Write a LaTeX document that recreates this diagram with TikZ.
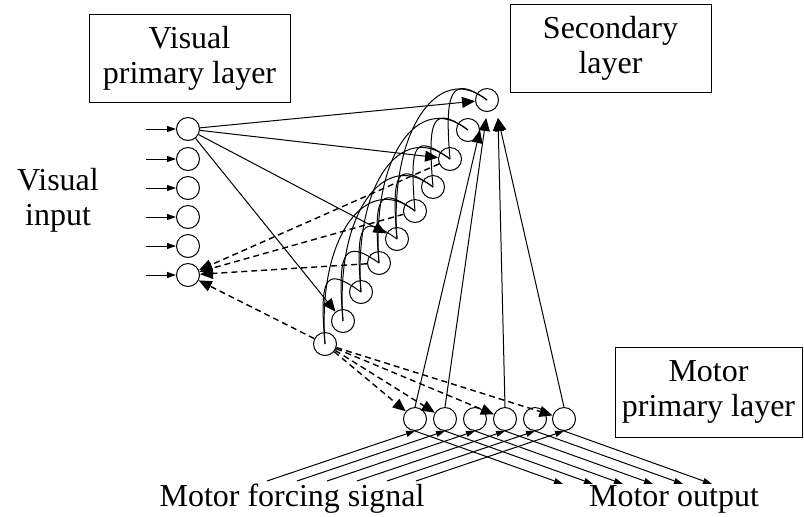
\documentclass[tikz,border=0pt]{standalone}
\usepackage{fontspec}
\setmainfont{Liberation Serif}
\usetikzlibrary{arrows.meta}

\begin{document}
\begin{tikzpicture}[
        x=0.5pt, y=0.5pt, line width=0.5pt,
        unit/.style={circle, draw, minimum size=11.5pt, inner sep=0pt},
        layer/.style={rectangle, draw, align=center, inner sep=0pt, font=\fontsize{16}{17.5}\selectfont},
        caption/.style={align=center, inner sep=0pt, font=\fontsize{16}{17.5}\selectfont},
        arrow/.style={-{Triangle[length=4.5pt, width=3pt]}},
        bigarrow/.style={-{Triangle[length=6.5pt, width=5.5pt]}},
        dasharrow/.style={bigarrow, dash pattern=on 3pt off 2pt, line width=0.7pt},
    ]
        \useasboundingbox (0,0) rectangle (804,-516);

        % Labels
        \node[layer, minimum width=100.5pt, minimum height=44pt] (vbox) at (189.5,-58) {Visual\\primary layer};
        \node[layer, minimum width=100.5pt, minimum height=44pt] (sbox) at (610.5,-48) {Secondary\\layer};
        \node[layer, minimum width=93.5pt, minimum height=45pt] (mbox) at (708.5,-392) {Motor\\primary layer};
        \node[caption] (vin) at (58,-200) {Visual\\input};
        \node[caption] (force) at (292,-499) {Motor forcing signal};
        \node[caption] (mout) at (674,-499) {Motor output};

        % Visual primary layer
        \node[unit] (v1) at (188,-129) {};
        \node[unit] (v2) at (188,-159) {};
        \node[unit] (v3) at (188,-188) {};
        \node[unit] (v4) at (188,-217) {};
        \node[unit] (v5) at (188,-246) {};
        \node[unit] (v6) at (188,-275) {};

        % Secondary layer
        \node[unit] (s1) at (325,-344) {};
        \node[unit] (s2) at (343,-321) {};
        \node[unit] (s3) at (361,-292) {};
        \node[unit] (s4) at (379,-263) {};
        \node[unit] (s5) at (397,-239) {};
        \node[unit] (s6) at (415,-211) {};
        \node[unit] (s7) at (433,-187) {};
        \node[unit] (s8) at (450,-159) {};
        \node[unit] (s9) at (468,-130) {};
        \node[unit] (s10) at (487,-100) {};
        \coordinate (s10in) at (498,-118);

        % Motor primary layer
        \node[unit] (m1) at (415,-419) {};
        \node[unit] (m2) at (445,-419) {};
        \node[unit] (m3) at (475,-419) {};
        \node[unit] (m4) at (505,-419) {};
        \node[unit] (m5) at (535,-419) {};
        \node[unit] (m6) at (564,-419) {};

        % Visual input
        \draw[arrow] ([xshift=-15pt]v1.west) -- (v1.west);
        \draw[arrow] ([xshift=-15pt]v2.west) -- (v2.west);
        \draw[arrow] ([xshift=-15pt]v3.west) -- (v3.west);
        \draw[arrow] ([xshift=-15pt]v4.west) -- (v4.west);
        \draw[arrow] ([xshift=-15pt]v5.west) -- (v5.west);
        \draw[arrow] ([xshift=-15pt]v6.west) -- (v6.west);

        % Visual to secondary
        \draw[bigarrow] (v1) -- (s2);
        \draw[bigarrow] (v1) -- (s5);
        \draw[bigarrow] (v1) -- (s8);
        \draw[bigarrow] (v1) -- (s10);

        % Secondary back to visual
        \draw[dasharrow] (s8) -- (v6);
        \draw[dasharrow] (s6) -- (v6);
        \draw[dasharrow] (s4) -- (v6);
        \draw[dasharrow] (s1) -- (v6);

        % Secondary to motor
        \draw[dasharrow] (s1) -- (m1);
        \draw[dasharrow] (s1) -- (m2);
        \draw[dasharrow] (s1) -- (m4);
        \draw[dasharrow] (s1) -- (m6);

        % Motor to secondary
        \draw[bigarrow] (m1.north) -- (s9.east);
        \draw[bigarrow, shorten >=3pt] (m2.north) -- (s10.south);
        \draw[bigarrow] (m4.north) -- (s10in);
        \draw[bigarrow] (m6.north) -- (s10in);

        % Lateral connections in the secondary layer
        \draw (s1.center) .. controls +(-6,70) and +(-35,25) .. (s3.center);
        \draw (s2.center) .. controls +(-6,70) and +(-35,25) .. (s4.center);
        \draw (s3.center) .. controls +(-6,70) and +(-35,25) .. (s5.center);
        \draw (s4.center) .. controls +(-6,70) and +(-35,25) .. (s6.center);
        \draw (s5.center) .. controls +(-6,70) and +(-35,25) .. (s7.center);
        \draw (s6.center) .. controls +(-6,70) and +(-35,25) .. (s8.center);
        \draw (s7.center) .. controls +(-6,70) and +(-35,25) .. (s9.center);
        \draw (s8.center) .. controls +(-6,70) and +(-35,25) .. (s10.center);
        \draw (s1.center) .. controls +(-8,105) and +(-50,40) .. (s6.center);
        \draw (s2.center) .. controls +(-8,105) and +(-50,40) .. (s7.center);
        \draw (s3.center) .. controls +(-8,105) and +(-50,40) .. (s8.center);
        \draw (s4.center) .. controls +(-8,105) and +(-50,40) .. (s9.center);
        \draw (s5.center) .. controls +(-8,105) and +(-50,40) .. (s10.center);

        % Motor forcing signal
        \draw[arrow] ([shift={(-148,-50)}]m1.south) -- (m1.south);
        \draw[arrow] ([shift={(-148,-50)}]m2.south) -- (m2.south);
        \draw[arrow] ([shift={(-148,-50)}]m3.south) -- (m3.south);
        \draw[arrow] ([shift={(-148,-50)}]m4.south) -- (m4.south);
        \draw[arrow] ([shift={(-148,-50)}]m5.south) -- (m5.south);
        \draw[arrow] ([shift={(-148,-50)}]m6.south) -- (m6.south);

        % Motor output
        \draw[arrow] (m1.south) -- ([shift={(148,-53)}]m1.south);
        \draw[arrow] (m2.south) -- ([shift={(148,-53)}]m2.south);
        \draw[arrow] (m3.south) -- ([shift={(148,-53)}]m3.south);
        \draw[arrow] (m4.south) -- ([shift={(148,-53)}]m4.south);
        \draw[arrow] (m5.south) -- ([shift={(148,-53)}]m5.south);
        \draw[arrow] (m6.south) -- ([shift={(148,-53)}]m6.south);
    \end{tikzpicture}
\end{document}
